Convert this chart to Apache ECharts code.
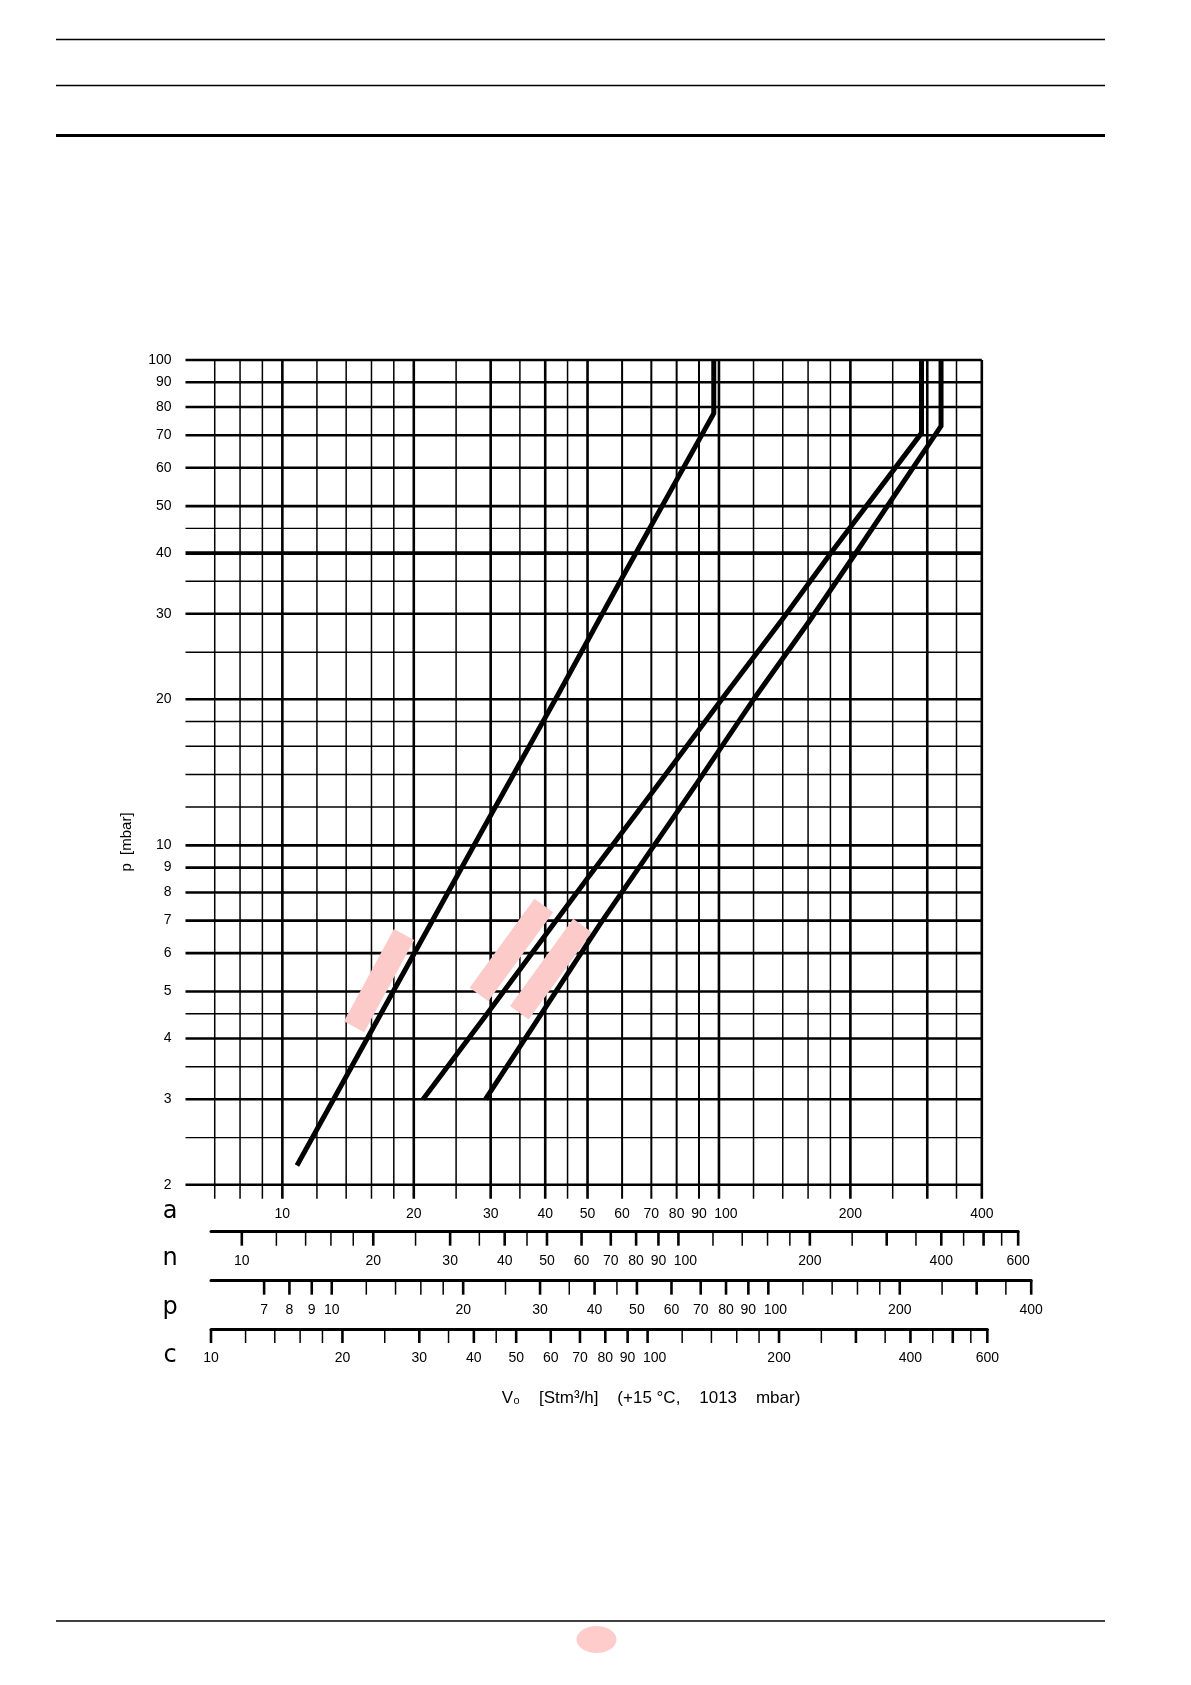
<!DOCTYPE html>
<html>
<head>
<meta charset="utf-8">
<script src="https://cdn.jsdelivr.net/npm/echarts@6/dist/echarts.min.js"></script>
<style>
html,body{margin:0;padding:0;background:#fff}
#chart{width:1191px;height:1685px}
</style>
</head>
<body>
<div id="chart"></div>
<script>
// ---------------- data ----------------
const yGridValues = [2,2.5,3,3.5,4,4.5,5,6,7,8,9,10,12,14,16,18,20,25,30,35,40,45,50,60,70,80,90,100];
const yTickLabels = [2,3,4,5,6,7,8,9,10,20,30,40,50,60,70,80,90,100];
const aGridValues = [7,8,9,10,12,14,16,18,20,25,30,35,40,45,50,60,70,80,90,100,120,140,160,180,200,250,300,350,400];
const aTickLabels = [10,20,30,40,50,60,70,80,90,100,200,400];
const nTickValues = [10,12,14,16,18,20,25,30,35,40,45,50,60,70,80,90,100,120,140,160,180,200,250,300,350,400,450,500,550,600];
const nTickLabels = [10,20,30,40,50,60,70,80,90,100,200,400,600];
const pTickValues = [7,8,9,10,12,14,16,18,20,25,30,35,40,45,50,60,70,80,90,100,120,140,160,180,200,250,300,350,400];
const pTickLabels = [7,8,9,10,20,30,40,50,60,70,80,90,100,200,400];
const cTickValues = [10,12,14,16,18,20,25,30,35,40,45,50,60,70,80,90,100,120,140,160,180,200,250,300,350,400,450,500,550,600];
const cTickLabels = [10,20,30,40,50,60,70,80,90,100,200,400,600];

// curves: [flow a (Stm3/h), pressure p (mbar)]
const curve1 = [[10.8,2.19],[28.8,10.8],[43,20.6],[59.4,35.0],[97.3,77.6],[97.3,100]];
const curve2 = [[21.0,3.0],[28.9,4.4],[49.7,8.5],[70.1,12.8],[102.3,20.2],[139.2,29.1],[182.6,40.6],[291,70.7],[291,100]];
const curve3 = [[29.2,3.0],[53.5,6.9],[88.9,13.4],[121,20.2],[161.6,29.1],[208,40.6],[322.6,73.1],[322.6,100]];

// pink highlight bands: [aStart, pStart, aEnd, pEnd] along band centre line
const highlightBands = [[19.0,6.55,14.6,4.23],[39.7,7.52,28.2,4.93],[48.7,6.84,34.9,4.52]];

// ---------------- layout / style ----------------
const X_MIN = 6, X_MAX = 400, Y_MIN = 2, Y_MAX = 100;
const DEC = 436.6;          // px per decade horizontally
const DEC_Y = 485.4;        // px per decade vertically
const TICK_LEN = 14, LABEL_OFF = 29;
const FONT = '14px "Liberation Sans", Arial, sans-serif';
const TXT = '#000';
const lg = Math.log10;

function txt(x, y, s, align) {
  return {type:'text', x:x, y:y, style:{text:String(s), font:FONT, fill:TXT,
    align:align, verticalAlign:'middle', textAlign:align, textVerticalAlign:'middle'}};
}
// the "100" labels sit slightly right of their tick in the original
function labelX(x, v) { return v === 100 ? x + 7 : x; }

function vGridItem(params, api) {
  const v = api.value(0);
  const top = api.coord([v, Y_MAX]);
  const bot = api.coord([v, Y_MIN]);
  const thick = [10,20,30,40,50,100,200,300,400].indexOf(v) >= 0;
  const mid = aTickLabels.indexOf(v) >= 0;
  const children = [{type:'line', shape:{x1:top[0], y1:top[1], x2:bot[0], y2:bot[1] + TICK_LEN},
    style:{stroke:'#000', lineWidth: thick ? 2.6 : (mid ? 2 : 1.5)}}];
  if (mid) children.push(txt(labelX(bot[0], v), bot[1] + LABEL_OFF, v, 'center'));
  return {type:'group', children:children};
}

function hGridItem(params, api) {
  const v = api.value(1);
  const l = api.coord([X_MIN, v]);
  const r = api.coord([X_MAX, v]);
  const lab = yTickLabels.indexOf(v) >= 0;
  const w = v === 40 ? 3.6 : (lab ? 2.6 : 1.4);
  const children = [{type:'line', shape:{x1:l[0], y1:l[1], x2:r[0], y2:r[1]}, style:{stroke:'#000', lineWidth:w}}];
  if (lab) children.push(txt(l[0] - 14, l[1], v, 'right'));
  return {type:'group', children:children};
}

function tickRenderer(labels) {
  return function (params, api) {
    const v = api.value(0);
    const pt = api.coord([v, 1]);
    const isLab = labels.indexOf(v) >= 0;
    const thick = isLab || v === 300 || v === 500;
    const children = [{type:'line', shape:{x1:pt[0], y1:pt[1], x2:pt[0], y2:pt[1] + TICK_LEN},
      style:{stroke:'#000', lineWidth: thick ? 2.6 : 1.5}}];
    if (isLab) children.push(txt(labelX(pt[0], v), pt[1] + LABEL_OFF, v, 'center'));
    return {type:'group', children:children};
  };
}

function bandItem(params, api) {
  const p1 = api.coord([api.value(0), api.value(1)]);
  const p2 = api.coord([api.value(2), api.value(3)]);
  const dx = p2[0] - p1[0], dy = p2[1] - p1[1], L = Math.hypot(dx, dy), hw = 11.5;
  const nx = -dy / L * hw, ny = dx / L * hw;
  return {type:'polygon', shape:{points:[[p1[0]+nx,p1[1]+ny],[p2[0]+nx,p2[1]+ny],[p2[0]-nx,p2[1]-ny],[p1[0]-nx,p1[1]-ny]]},
    style:{fill:'#fdcaca'}};
}

// grids
const mainLeft = 185.5, mainTop = 360;
const mainW = DEC * lg(X_MAX / X_MIN), mainH = DEC_Y * lg(Y_MAX / Y_MIN);
const secAxes = [
  {min:8.5,  max:600, top:1231.7, ticks:nTickValues, labels:nTickLabels},
  {min:5.29, max:400, top:1280.7, ticks:pTickValues, labels:pTickLabels},
  {min:10,   max:600, top:1329,   ticks:cTickValues, labels:cTickLabels}
];
const secLeft = 211;

const grids = [{left:mainLeft, top:mainTop, width:mainW, height:mainH}];
const xAxes = [{gridIndex:0, type:'log', logBase:10, min:X_MIN, max:X_MAX, show:false}];
const yAxes = [{gridIndex:0, type:'log', logBase:10, min:Y_MIN, max:Y_MAX, show:false}];
secAxes.forEach(function (ax, i) {
  grids.push({left:secLeft, top:ax.top, width:DEC * lg(ax.max / ax.min), height:10});
  xAxes.push({gridIndex:i+1, type:'log', logBase:10, min:ax.min, max:ax.max, position:'top',
    axisLine:{show:true, onZero:false, lineStyle:{color:'#000', width:3}},
    axisTick:{show:false}, axisLabel:{show:false}, splitLine:{show:false}, minorTick:{show:false}});
  yAxes.push({gridIndex:i+1, type:'value', min:0, max:1, show:false});
});

const series = [
  {type:'custom', name:'vgrid', xAxisIndex:0, yAxisIndex:0, z:1, silent:true,
    data: aGridValues.map(function (v) { return [v, Y_MIN]; }), renderItem: vGridItem},
  {type:'custom', name:'hgrid', xAxisIndex:0, yAxisIndex:0, z:1, silent:true,
    data: yGridValues.map(function (v) { return [X_MIN, v]; }), renderItem: hGridItem},
  {type:'custom', name:'bands', xAxisIndex:0, yAxisIndex:0, z:2, silent:true,
    encode:{x:[0,2], y:[1,3]}, data: highlightBands, renderItem: bandItem}
];
[curve1, curve2, curve3].forEach(function (c, i) {
  series.push({type:'line', name:'curve' + (i+1), xAxisIndex:0, yAxisIndex:0, z:3, data:c,
    symbol:'none', clip:false, silent:true,
    lineStyle:{color:'#000', width:5, cap:'butt', join:'miter'}});
});
secAxes.forEach(function (ax, i) {
  series.push({type:'custom', xAxisIndex:i+1, yAxisIndex:i+1, z:1, silent:true,
    data: ax.ticks.map(function (v) { return [v, 1]; }), renderItem: tickRenderer(ax.labels)});
});

const letterFont = '24px "DejaVu Sans", sans-serif';
function letter(s, y) {
  return {type:'text', x:170, y:y, style:{text:s, font:letterFont, fill:'#000',
    align:'center', verticalAlign:'middle', textAlign:'center', textVerticalAlign:'middle'}};
}
function hline(y, w) {
  return {type:'line', shape:{x1:56, y1:y, x2:1105, y2:y}, style:{stroke:'#000', lineWidth:w}};
}

const option = {
  animation:false,
  backgroundColor:'#fff',
  grid: grids,
  xAxis: xAxes,
  yAxis: yAxes,
  series: series,
  graphic: [
    hline(39.5, 1.5), hline(85.5, 1.5), hline(135.5, 3), hline(1621, 1.5),
    {type:'ellipse', shape:{cx:596.5, cy:1639.5, rx:20, ry:13.5}, style:{fill:'#ffcccc'}},
    letter('a', mainTop + mainH + LABEL_OFF - 2),
    letter('n', 1231.7 + LABEL_OFF - 2),
    letter('p', 1280.7 + LABEL_OFF - 2),
    letter('c', 1329 + LABEL_OFF - 2),
    {type:'text', x:651, y:1398, style:{text:'V\u2080    [Stm\u00b3/h]    (+15 \u00b0C,    1013    mbar)',
      font:'17px "Liberation Sans", Arial, sans-serif', fill:'#000', align:'center', verticalAlign:'middle',
      textAlign:'center', textVerticalAlign:'middle'}},
    {type:'text', x:127, y:842, rotation:Math.PI/2, style:{text:'p  [mbar]',
      font:'15px "Liberation Sans", Arial, sans-serif', fill:'#000', align:'center', verticalAlign:'middle',
      textAlign:'center', textVerticalAlign:'middle'}}
  ]
};

const chart = echarts.init(document.getElementById('chart'), null, {renderer:'canvas'});
chart.setOption(option);
</script>
</body>
</html>
